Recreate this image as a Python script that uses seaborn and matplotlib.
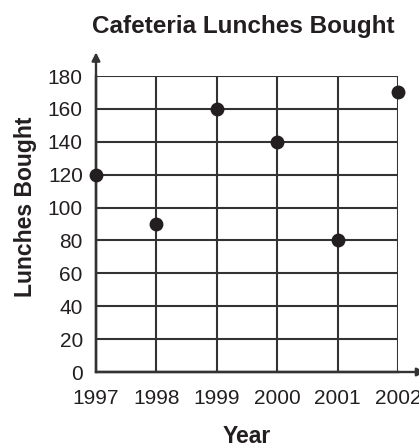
import matplotlib
matplotlib.use("Agg")
import matplotlib.pyplot as plt
import seaborn as sns
import pandas as pd

# data
years = [1997, 1998, 1999, 2000, 2001, 2002]
lunches = [120, 90, 160, 140, 80, 170]
y_ticks = [0, 20, 40, 60, 80, 100, 120, 140, 160, 180]

title = "Cafeteria Lunches Bought"
x_label = "Year"
y_label = "Lunches Bought"

INK = "#231f20"
GRID = "#333333"

sns.set_style("white")
plt.rcParams["font.family"] = ["Liberation Sans", "DejaVu Sans"]

df = pd.DataFrame({"year": years, "lunches": lunches})

fig = plt.figure(figsize=(4.19, 4.45), dpi=100)
ax = fig.add_axes([96 / 419, 73 / 445, 302 / 419, 296 / 445])

sns.scatterplot(data=df, x="year", y="lunches", ax=ax, color=INK, s=100,
                edgecolor=INK, linewidth=0, clip_on=False, zorder=5, legend=False)

ax.set_xlim(years[0], years[-1])
ax.set_ylim(y_ticks[0], y_ticks[-1])
ax.set_xticks(years)
ax.set_yticks(y_ticks)
ax.set_xticklabels([str(y) for y in years])

ax.grid(True, color=GRID, linewidth=1.5)
for side in ["top", "right"]:
    ax.spines[side].set_visible(False)
for side in ["left", "bottom"]:
    ax.spines[side].set_color(GRID)
    ax.spines[side].set_linewidth(1.7)

ax.tick_params(axis="both", length=6.5, width=1.5, color=GRID, direction="out",
               labelsize=15, labelcolor=INK)
ax.tick_params(axis="x", pad=6)
ax.tick_params(axis="y", pad=3)

# arrows on the two axes
ax.annotate("", xy=(0, 1.08), xytext=(0, 0), xycoords="axes fraction",
            arrowprops=dict(arrowstyle="-|>", color=GRID, lw=1.7,
                            mutation_scale=12, shrinkA=0, shrinkB=0),
            annotation_clip=False)
ax.annotate("", xy=(1.09, 0), xytext=(0, 0), xycoords="axes fraction",
            arrowprops=dict(arrowstyle="-|>", color=GRID, lw=1.7,
                            mutation_scale=12, shrinkA=0, shrinkB=0),
            annotation_clip=False)

ax.set_xlabel(x_label, fontsize=16.5, fontweight="bold", color=INK, labelpad=12)
ax.set_ylabel(y_label, fontsize=16.5, fontweight="bold", color=INK)
ax.yaxis.set_label_coords(-0.195, 0.557)

fig.text(243 / 419, (445 - 33) / 445, title, ha="center", va="baseline",
         fontsize=17.5, fontweight="bold", color=INK)

fig.savefig("out.png", dpi=100)
